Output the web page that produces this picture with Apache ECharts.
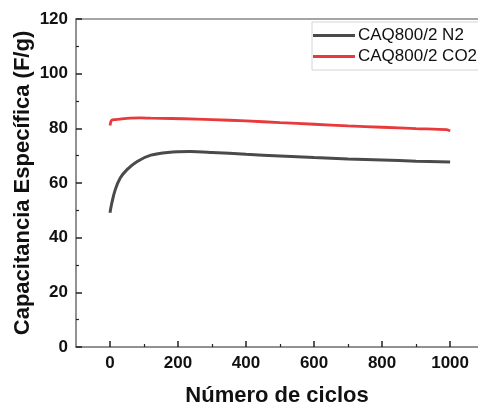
<!DOCTYPE html>
<html>
<head>
<meta charset="utf-8">
<script src="https://cdn.jsdelivr.net/npm/echarts@6/dist/echarts.min.js"></script>
<style>
  html, body { margin: 0; padding: 0; background: #fff; }
  #chart { width: 478px; height: 407px; }
</style>
</head>
<body>
<div id="chart"></div>
<script>
// Specific capacitance vs. cycle number for two activation atmospheres
const seriesNames = ['CAQ800/2 N2', 'CAQ800/2 CO2'];

const cyclesN2 = [0, 5, 15, 30, 50, 80, 120, 170, 235, 300, 400, 500, 600, 700, 800, 900, 1000];
const capN2 = [49.1, 52.5, 57.4, 61.8, 64.9, 67.9, 70.2, 71.2, 71.5, 71.2, 70.5, 69.9, 69.3, 68.8, 68.4, 68.0, 67.7];

const cyclesCO2 = [0, 2, 5, 15, 30, 60, 90, 120, 180, 255, 300, 400, 500, 600, 700, 800, 900, 990, 1000];
const capCO2 = [81.0, 82.2, 83.0, 83.2, 83.4, 83.7, 83.8, 83.7, 83.6, 83.4, 83.2, 82.7, 82.1, 81.5, 80.9, 80.4, 79.9, 79.5, 79.0];

const xMajorTicks = [0, 200, 400, 600, 800, 1000];
const xMinorTicks = [100, 300, 500, 700, 900];
const xMin = -100;
const xMax = 1082;

const pair = (xs, ys) => xs.map((x, i) => [x, ys[i]]);

const axisGray = '#6e6e6e';
const labelFont = { fontFamily: 'Liberation Sans', fontWeight: 'bold', fontSize: 17, color: '#111' };
const nameFont = { fontFamily: 'Liberation Sans', fontWeight: 'bold', fontSize: 22, color: '#111' };

const chart = echarts.init(document.getElementById('chart'));
chart.setOption({
  animation: false,
  grid: { left: 76, top: 19, right: 0, bottom: 60, containLabel: false, outerBoundsMode: 'none' },
  legend: {
    data: seriesNames,
    orient: 'vertical',
    left: 312, top: 22,
    itemWidth: 42, itemHeight: 3, itemGap: 4,
    padding: [5, 30, 5, 1],
    backgroundColor: '#fff',
    borderColor: '#d4d4d4', borderWidth: 1, borderRadius: 0,
    icon: 'rect',
    textStyle: { fontFamily: 'Liberation Sans', fontSize: 17, color: '#111', padding: [0, 0, 0, -2] }
  },
  xAxis: [
    {
      type: 'value', min: xMin, max: xMax, interval: 100,
      position: 'bottom',
      name: 'Número de ciclos', nameLocation: 'middle', nameGap: 38,
      nameMoveOverlap: false,
      nameTextStyle: nameFont,
      axisLine: { show: true, onZero: false, lineStyle: { color: axisGray, width: 1.5 } },
      axisTick: { show: true, inside: true, length: 6, customValues: xMajorTicks, lineStyle: { color: '#222', width: 1.5 } },
      axisLabel: Object.assign({ margin: 8, customValues: xMajorTicks, formatter: v => String(v) }, labelFont),
      splitLine: { show: false }
    },
    {
      type: 'value', min: xMin, max: xMax, interval: 100,
      position: 'bottom',
      axisLine: { show: false },
      axisTick: { show: true, inside: true, length: 3, customValues: xMinorTicks, lineStyle: { color: '#222', width: 1.2 } },
      axisLabel: { show: false },
      splitLine: { show: false }
    },
    {
      type: 'value', min: xMin, max: xMax,
      position: 'top',
      axisLine: { show: true, onZero: false, lineStyle: { color: '#888', width: 1.5 } },
      axisTick: { show: false },
      axisLabel: { show: false },
      splitLine: { show: false }
    }
  ],
  yAxis: {
    type: 'value', min: 0, max: 120, interval: 20,
    name: 'Capacitancia Específica (F/g)', nameLocation: 'middle', nameGap: 42,
    nameMoveOverlap: false,
    nameTextStyle: nameFont,
    axisLine: { show: true, onZero: false, lineStyle: { color: axisGray, width: 1.5 } },
    axisTick: { show: true, inside: true, length: 6, lineStyle: { color: '#222', width: 1.5 } },
    minorTick: { show: true, splitNumber: 2, length: 3, lineStyle: { color: '#222', width: 1.2 } },
    axisLabel: Object.assign({ margin: 8 }, labelFont),
    splitLine: { show: false }
  },
  series: [
    {
      name: seriesNames[0], type: 'line', xAxisIndex: 0,
      data: pair(cyclesN2, capN2), smooth: 0.35, showSymbol: false,
      itemStyle: { color: '#4a4a4a' },
      lineStyle: { color: '#4a4a4a', width: 3 }
    },
    {
      name: seriesNames[1], type: 'line', xAxisIndex: 0,
      data: pair(cyclesCO2, capCO2), smooth: 0.3, showSymbol: false,
      itemStyle: { color: '#e83a3c' },
      lineStyle: { color: '#e83a3c', width: 2.8 }
    }
  ]
});
</script>
</body>
</html>
